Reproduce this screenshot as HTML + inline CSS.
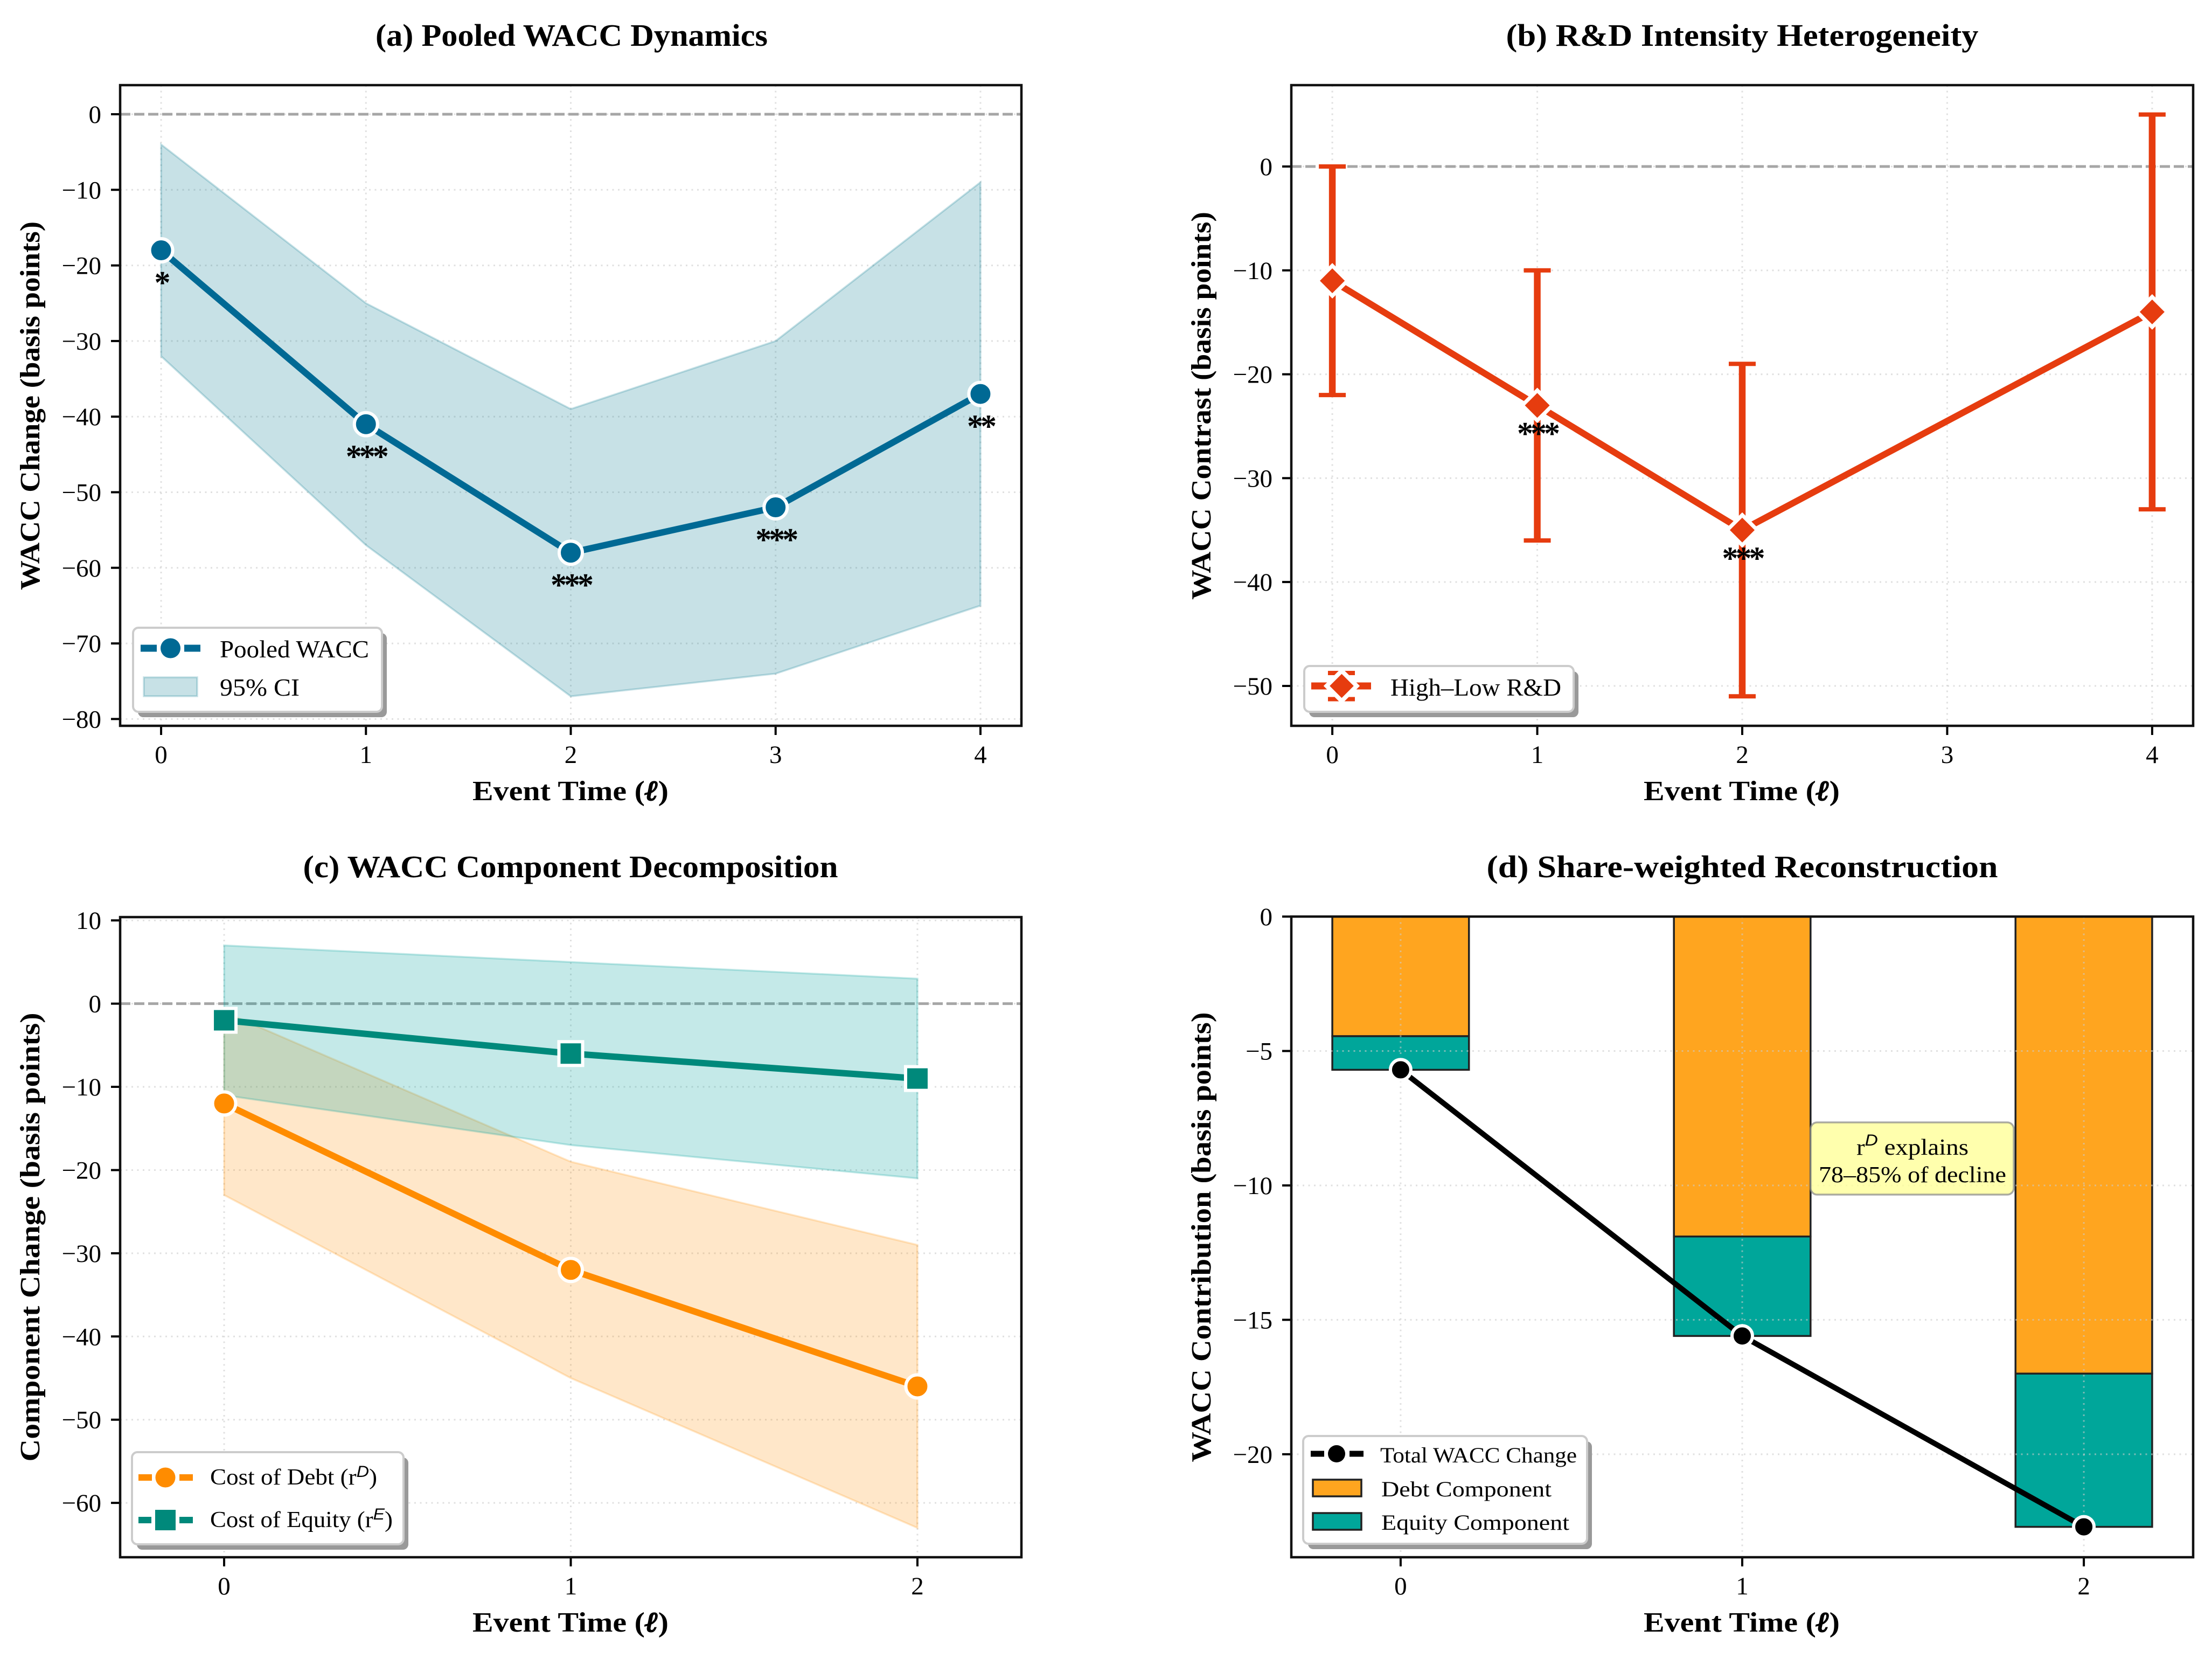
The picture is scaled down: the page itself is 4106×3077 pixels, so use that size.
<!DOCTYPE html>
<html lang="en">
<head>
<meta charset="utf-8">
<title>WACC Dynamics Figure</title>
<style>
html,body{margin:0;padding:0;background:#fff;}
svg{display:block;}
text{font-family:"Liberation Serif","DejaVu Serif",serif;fill:#000;}
.title{font-size:58px;font-weight:700;text-anchor:middle;}
.axlab{font-size:52px;font-weight:700;text-anchor:middle;}
.ell{font-style:italic;stroke:#000;stroke-width:2;}
.lg{font-size:46px;}
.lgc{font-size:42px;}
.lgd{font-size:40px;}
.sup{font-family:"Liberation Sans",sans-serif;font-style:italic;}
</style>
</head>
<body>
<svg id="figure" xmlns="http://www.w3.org/2000/svg" width="4106" height="3077" viewBox="0 0 4106 3077">
  <rect x="0" y="0" width="4106" height="3077" fill="#ffffff"/>

  <g id="panel-a"></g>
  <g id="panel-b"></g>
  <g id="panel-c"></g>
  <g id="panel-d"></g>

  <g>
    <text class="title" x="1061" y="85" textLength="728" lengthAdjust="spacingAndGlyphs">(a) Pooled WACC Dynamics</text>
    <text class="title" x="3234" y="85" textLength="877" lengthAdjust="spacingAndGlyphs">(b) R&amp;D Intensity Heterogeneity</text>
    <text class="title" x="1059" y="1628" textLength="993" lengthAdjust="spacingAndGlyphs">(c) WACC Component Decomposition</text>
    <text class="title" x="3234" y="1628" textLength="949" lengthAdjust="spacingAndGlyphs">(d) Share-weighted Reconstruction</text>
  </g>

  <g>
    <text class="axlab" x="1059" y="1485" textLength="364" lengthAdjust="spacingAndGlyphs">Event Time (<tspan class="ell">ℓ</tspan>)</text>
    <text class="axlab" x="3233" y="1485" textLength="364" lengthAdjust="spacingAndGlyphs">Event Time (<tspan class="ell">ℓ</tspan>)</text>
    <text class="axlab" x="1059" y="3028" textLength="364" lengthAdjust="spacingAndGlyphs">Event Time (<tspan class="ell">ℓ</tspan>)</text>
    <text class="axlab" x="3233" y="3028" textLength="364" lengthAdjust="spacingAndGlyphs">Event Time (<tspan class="ell">ℓ</tspan>)</text>
    <text class="axlab" transform="translate(73,753) rotate(-90)" textLength="684" lengthAdjust="spacingAndGlyphs">WACC Change (basis points)</text>
    <text class="axlab" transform="translate(2247,753) rotate(-90)" textLength="720" lengthAdjust="spacingAndGlyphs">WACC Contrast (basis points)</text>
    <text class="axlab" transform="translate(73,2296) rotate(-90)" textLength="833" lengthAdjust="spacingAndGlyphs">Component Change (basis points)</text>
    <text class="axlab" transform="translate(2247,2296) rotate(-90)" textLength="835" lengthAdjust="spacingAndGlyphs">WACC Contribution (basis points)</text>
  </g>

  <g>
    <rect x="256" y="1175" width="462" height="156" rx="10" fill="#999999"/>
    <rect x="247" y="1165" width="462" height="156" rx="10" fill="#ffffff" stroke="#cccccc" stroke-width="4"/>
    <g>
      <path d="M261 1203H291M342 1203H372" stroke="#006994" stroke-width="13" fill="none"/>
      <circle cx="316.5" cy="1203" r="18.5" fill="#006994"/>
      <text class="lg" x="408" y="1220" textLength="277" lengthAdjust="spacingAndGlyphs">Pooled WACC</text>
    </g>
    <g>
      <rect x="267" y="1257" width="99" height="35" fill="#00778F" fill-opacity="0.22" stroke="#00778F" stroke-opacity="0.22" stroke-width="3.5"/>
      <text class="lg" x="408" y="1291" textLength="148" lengthAdjust="spacingAndGlyphs">95% CI</text>
    </g>
  </g>

  <g>
    <rect x="2430" y="1246" width="500" height="85" rx="10" fill="#999999"/>
    <rect x="2421" y="1236" width="500" height="85" rx="10" fill="#ffffff" stroke="#cccccc" stroke-width="4"/>
    <g>
      <path d="M2434 1273H2545" stroke="#E63C0F" stroke-width="13" fill="none"/>
      <path d="M2465 1249H2515M2465 1297.5H2515" stroke="#E63C0F" stroke-width="8" fill="none"/>
      <path d="M2490.5 1245L2518.5 1273L2490.5 1301L2462.5 1273Z" fill="#E63C0F" stroke="#ffffff" stroke-width="8"/>
      <text class="lg" x="2581" y="1291" textLength="317" lengthAdjust="spacingAndGlyphs">High–Low R&amp;D</text>
    </g>
  </g>

  <g>
    <rect x="254" y="2705" width="504" height="171" rx="10" fill="#999999"/>
    <rect x="245" y="2695" width="504" height="171" rx="10" fill="#ffffff" stroke="#cccccc" stroke-width="4"/>
    <g>
      <path d="M257 2742H282M333 2742H358" stroke="#FF8C00" stroke-width="12" fill="none"/>
      <circle cx="307" cy="2742" r="18.5" fill="#FF8C00"/>
      <text class="lgc" x="390" y="2755" textLength="310" lengthAdjust="spacingAndGlyphs">Cost of Debt (r<tspan class="sup" font-size="30" dy="-14">D</tspan><tspan dy="14">)</tspan></text>
    </g>
    <g>
      <path d="M257 2821H281M333 2821H358" stroke="#00897B" stroke-width="12" fill="none"/>
      <rect x="288" y="2802" width="38" height="38" fill="#00897B"/>
      <text class="lgc" x="390" y="2834" textLength="339" lengthAdjust="spacingAndGlyphs">Cost of Equity (r<tspan class="sup" font-size="30" dy="-14">E</tspan><tspan dy="14">)</tspan></text>
    </g>
  </g>

  <g>
    <rect x="2428" y="2675" width="527" height="200" rx="10" fill="#999999"/>
    <rect x="2419" y="2665" width="527" height="200" rx="10" fill="#ffffff" stroke="#cccccc" stroke-width="4"/>
    <g>
      <path d="M2433 2698H2458M2505 2698H2531" stroke="#000000" stroke-width="11" fill="none"/>
      <circle cx="2481" cy="2698" r="16" fill="#000000"/>
      <text class="lgd" x="2562" y="2714" textLength="365" lengthAdjust="spacingAndGlyphs">Total WACC Change</text>
    </g>
    <g>
      <rect x="2437" y="2746" width="90" height="31" fill="#FFA51F" stroke="#222222" stroke-width="3.5"/>
      <text class="lgd" x="2564" y="2777" textLength="316" lengthAdjust="spacingAndGlyphs">Debt Component</text>
    </g>
    <g>
      <rect x="2437" y="2808" width="90" height="31" fill="#00A69A" stroke="#222222" stroke-width="3.5"/>
      <text class="lgd" x="2564" y="2839" textLength="349" lengthAdjust="spacingAndGlyphs">Equity Component</text>
    </g>
  </g>
</svg>

<script>
/* Panel (a) data */
const aEventTime = [0, 1, 2, 3, 4];
const aPooledWacc = [-18, -41, -58, -52, -37];
const aCiUpper = [-4, -25, -39, -30, -9];
const aCiLower = [-32, -57, -77, -74, -65];
const aStars = ['*', '***', '***', '***', '**'];
const aXTicks = ['0', '1', '2', '3', '4'];
const aYTicks = ['0', '-10', '-20', '-30', '-40', '-50', '-60', '-70', '-80'];

/* Panel (b) data */
const bEventTime = [0, 1, 2, 4];
const bContrast = [-11, -23, -35, -14];
const bCiUpper = [0, -10, -19, 5];
const bCiLower = [-22, -36, -51, -33];
const bStars = ['', '***', '***', ''];
const bXTicks = ['0', '1', '2', '3', '4'];
const bYTicks = ['0', '-10', '-20', '-30', '-40', '-50'];

/* Panel (c) data */
const cEventTime = [0, 1, 2];
const cDebt = [-12, -32, -46];
const cDebtUpper = [-1, -19, -29];
const cDebtLower = [-23, -45, -63];
const cEquity = [-2, -6, -9];
const cEquityUpper = [7, 5, 3];
const cEquityLower = [-11, -17, -21];
const cXTicks = ['0', '1', '2'];
const cYTicks = ['10', '0', '-10', '-20', '-30', '-40', '-50', '-60'];

/* Panel (d) data */
const dEventTime = [0, 1, 2];
const dDebtComponent = [-4.45, -11.9, -17.0];
const dEquityComponent = [-1.25, -3.7, -5.7];
const dTotal = [-5.7, -15.6, -22.7];
const dXTicks = ['0', '1', '2'];
const dYTicks = ['0', '-5', '-10', '-15', '-20'];

const NS = 'http://www.w3.org/2000/svg';

function shape(tag, parent, name, attrs) {
  const el = document.createElementNS(NS, tag);
  for (const k in attrs) el.setAttribute(k, attrs[k]);
  
  
  parent.appendChild(el);
  return el;
}
function label(parent, name, str, attrs) {
  const el = shape('text', parent, name, attrs);
  el.textContent = str;
  return el;
}
function linear(d0, d1, r0, r1) {
  return function (v) { return r0 + (v - d0) * (r1 - r0) / (d1 - d0); };
}
function minusText(s) { return s.replace('-', '\u2212'); }
function pointsOf(xs, ys, sx, sy) {
  return xs.map(function (x, i) { return sx(x) + ',' + sy(ys[i]); }).join(' ');
}
function band(g, name, xs, upper, lower, sx, sy, color, alpha) {
  const top = pointsOf(xs, upper, sx, sy);
  const bot = pointsOf(xs.slice().reverse(), lower.slice().reverse(), sx, sy);
  shape('polygon', g, name, {
    points: top + ' ' + bot, fill: color, 'fill-opacity': alpha,
    stroke: color, 'stroke-opacity': alpha, 'stroke-width': 3.5
  });
}
function line(g, name, xs, ys, sx, sy, color, width) {
  shape('polyline', g, name, {
    points: pointsOf(xs, ys, sx, sy), fill: 'none', stroke: color,
    'stroke-width': width, 'stroke-linejoin': 'round'
  });
}
function circles(g, name, xs, ys, sx, sy, color, r, edge) {
  xs.forEach(function (x, i) {
    shape('circle', g, name + '-' + x, {
      cx: sx(x), cy: sy(ys[i]), r: r, fill: color, stroke: '#ffffff', 'stroke-width': edge
    });
  });
}
function stars(g, name, xs, ys, marks, sx, sy, offset) {
  xs.forEach(function (x, i) {
    if (!marks[i]) return;
    label(g, name + '-' + x, marks[i], {
      x: sx(x), y: sy(ys[i]) + offset + 23, 'text-anchor': 'middle',
      'font-size': 60, 'font-weight': 700, 'letter-spacing': -5
    });
  });
}
function grid(g, frame, xTicks, yTicks, sx, sy) {
  const style = { stroke: '#cccccc', 'stroke-opacity': 0.6, 'stroke-width': 3, 'stroke-dasharray': '3 7.5', fill: 'none' };
  yTicks.forEach(function (t) {
    const y = sy(Number(t));
    shape('line', g, 'grid-line-y', Object.assign({ x1: frame.l, x2: frame.r, y1: y, y2: y }, style));
  });
  xTicks.forEach(function (t) {
    const x = sx(Number(t));
    shape('line', g, 'grid-line-x', Object.assign({ x1: x, x2: x, y1: frame.t, y2: frame.b }, style));
  });
}
function zeroLine(g, frame, sy) {
  const y = sy(0);
  shape('line', g, 'zero-reference-line', {
    x1: frame.l, x2: frame.r, y1: y, y2: y, stroke: '#a6a6a6', 'stroke-width': 5, 'stroke-dasharray': '19 7'
  });
}
function axes(g, frame, xTicks, yTicks, sx, sy) {
  yTicks.forEach(function (t) {
    const y = sy(Number(t));
    shape('line', g, 'y-tick', { x1: frame.l - 17, x2: frame.l, y1: y, y2: y, stroke: '#000', 'stroke-width': 4 });
    label(g, 'y-tick-label', minusText(t), {
      x: frame.l - 35, y: y + 16, 'text-anchor': 'end', 'font-size': 47
    });
  });
  xTicks.forEach(function (t) {
    const x = sx(Number(t));
    shape('line', g, 'x-tick', { x1: x, x2: x, y1: frame.b, y2: frame.b + 17, stroke: '#000', 'stroke-width': 4 });
    label(g, 'x-tick-label', t, {
      x: x, y: frame.b + 69, 'text-anchor': 'middle', 'font-size': 47
    });
  });
  shape('rect', g, 'axes-frame', {
    x: frame.l, y: frame.t, width: frame.r - frame.l, height: frame.b - frame.t,
    fill: 'none', stroke: '#111111', 'stroke-width': 4.5
  });
}

/* ---------- Panel (a) ---------- */
(function () {
  const g = document.getElementById('panel-a');
  const frame = { l: 223, r: 1896, t: 158, b: 1347 };
  const sx = linear(-0.2, 4.2, frame.l, frame.r);
  const sy = linear(3.85, -80.9, frame.t, frame.b);
  grid(g, frame, aXTicks, aYTicks, sx, sy);
  zeroLine(g, frame, sy);
  band(g, 'ci-band', aEventTime, aCiUpper, aCiLower, sx, sy, '#00778F', 0.22);
  line(g, 'pooled-wacc-line', aEventTime, aPooledWacc, sx, sy, '#006994', 12);
  circles(g, 'pooled-wacc-point', aEventTime, aPooledWacc, sx, sy, '#006994', 21.5, 6);
  stars(g, 'significance-stars', aEventTime, aPooledWacc, aStars, sx, sy, 57);
  axes(g, frame, aXTicks, aYTicks, sx, sy);
})();

/* ---------- Panel (b) ---------- */
(function () {
  const g = document.getElementById('panel-b');
  const frame = { l: 2397, r: 4071, t: 158, b: 1347 };
  const sx = linear(-0.2, 4.2, frame.l, frame.r);
  const sy = linear(7.83, -53.84, frame.t, frame.b);
  const red = '#E63C0F';
  grid(g, frame, bXTicks, bYTicks, sx, sy);
  zeroLine(g, frame, sy);
  bEventTime.forEach(function (x, i) {
    const px = sx(x);
    shape('line', g, 'error-bar', { x1: px, x2: px, y1: sy(bCiUpper[i]), y2: sy(bCiLower[i]), stroke: red, 'stroke-width': 12.5 });
    [bCiUpper[i], bCiLower[i]].forEach(function (v) {
      shape('rect', g, 'error-cap', { x: px - 25, y: sy(v) - 4, width: 50, height: 8, fill: red });
    });
  });
  line(g, 'contrast-line', bEventTime, bContrast, sx, sy, red, 12);
  bEventTime.forEach(function (x, i) {
    const px = sx(x), py = sy(bContrast[i]);
    shape('path', g, 'contrast-point-' + x, {
      d: 'M' + px + ' ' + (py - 28) + 'L' + (px + 28) + ' ' + py + 'L' + px + ' ' + (py + 28) + 'L' + (px - 28) + ' ' + py + 'Z',
      fill: red, stroke: '#ffffff', 'stroke-width': 7
    });
  });
  stars(g, 'significance-stars', bEventTime, bContrast, bStars, sx, sy, 49);
  axes(g, frame, bXTicks, bYTicks, sx, sy);
})();

/* ---------- Panel (c) ---------- */
(function () {
  const g = document.getElementById('panel-c');
  const frame = { l: 223, r: 1896, t: 1702, b: 2890 };
  const sx = linear(-0.3, 2.3, frame.l, frame.r);
  const sy = linear(10.4, -66.53, frame.t, frame.b);
  grid(g, frame, cXTicks, cYTicks, sx, sy);
  zeroLine(g, frame, sy);
  band(g, 'debt-ci-band', cEventTime, cDebtUpper, cDebtLower, sx, sy, '#FF8C00', 0.21);
  band(g, 'equity-ci-band', cEventTime, cEquityUpper, cEquityLower, sx, sy, '#00A09A', 0.23);
  line(g, 'cost-of-debt-line', cEventTime, cDebt, sx, sy, '#FF8C00', 12);
  circles(g, 'cost-of-debt-point', cEventTime, cDebt, sx, sy, '#FF8C00', 21.5, 6);
  line(g, 'cost-of-equity-line', cEventTime, cEquity, sx, sy, '#00897B', 12);
  cEventTime.forEach(function (x, i) {
    shape('rect', g, 'cost-of-equity-point-' + x, {
      x: sx(x) - 22, y: sy(cEquity[i]) - 22, width: 44, height: 44,
      fill: '#00897B', stroke: '#ffffff', 'stroke-width': 6
    });
  });
  axes(g, frame, cXTicks, cYTicks, sx, sy);
})();

/* ---------- Panel (d) ---------- */
(function () {
  const g = document.getElementById('panel-d');
  const frame = { l: 2397, r: 4071, t: 1701, b: 2890 };
  const sx = linear(-0.32, 2.32, frame.l, frame.r);
  const sy = linear(0, -23.83, frame.t, frame.b);
  const halfBar = sx(0.2) - sx(0);
  dEventTime.forEach(function (x, i) {
    const y0 = sy(0), y1 = sy(dDebtComponent[i]);
    const y2 = sy(dDebtComponent[i] + dEquityComponent[i]);
    shape('rect', g, 'debt-bar-' + x, {
      x: sx(x) - halfBar, y: y0, width: 2 * halfBar, height: y1 - y0,
      fill: '#FFA51F', stroke: '#222222', 'stroke-width': 3.5
    });
    shape('rect', g, 'equity-bar-' + x, {
      x: sx(x) - halfBar, y: y1, width: 2 * halfBar, height: y2 - y1,
      fill: '#00A69A', stroke: '#222222', 'stroke-width': 3.5
    });
  });
  grid(g, frame, dXTicks, dYTicks, sx, sy);
  line(g, 'total-wacc-line', dEventTime, dTotal, sx, sy, '#000000', 10);
  circles(g, 'total-wacc-point', dEventTime, dTotal, sx, sy, '#000000', 19, 6);

  const note = shape('g', g, 'annotation', {});
  shape('rect', note, 'annotation-box', {
    x: 3361, y: 2083, width: 377, height: 134, rx: 12,
    fill: '#ffff99', 'fill-opacity': 0.8, stroke: '#888888', 'stroke-opacity': 0.7, 'stroke-width': 3.5
  });
  const l1 = shape('text', note, 'annotation-line-1', {
    x: 3550, y: 2143, 'text-anchor': 'middle', 'font-size': 42, textLength: 208, lengthAdjust: 'spacingAndGlyphs'
  });
  l1.innerHTML = 'r<tspan class="sup" font-size="30" dy="-17">D</tspan><tspan dy="17"> explains</tspan>';
  label(note, 'annotation-line-2', '78–85% of decline', {
    x: 3550, y: 2194, 'text-anchor': 'middle', 'font-size': 42, textLength: 348, lengthAdjust: 'spacingAndGlyphs'
  });
  axes(g, frame, dXTicks, dYTicks, sx, sy);
})();
</script>
</body>
</html>
